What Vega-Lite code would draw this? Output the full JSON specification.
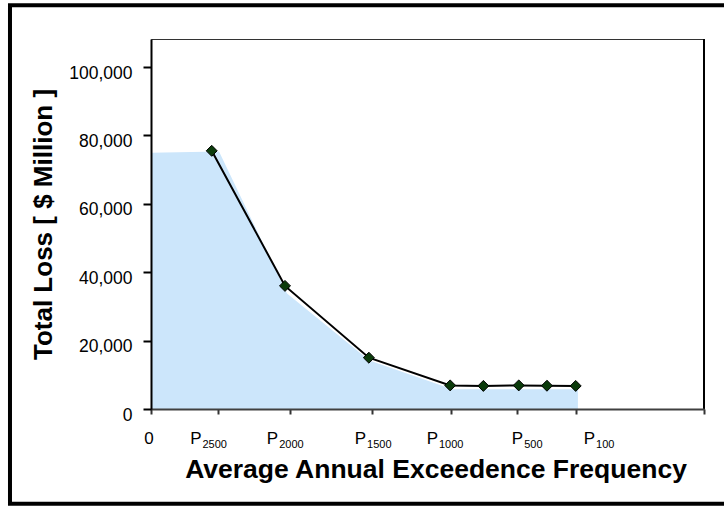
{
  "$schema": "https://vega.github.io/schema/vega-lite/v6.json",
  "width": 553,
  "height": 370,
  "autosize": {"type": "none"},
  "padding": {"left": 151, "top": 39, "right": 20, "bottom": 98},
  "background": "white",
  "config": {"font": "Liberation Sans", "view": {"stroke": "#333333", "strokeWidth": 1}},
  "datasets": {
    "curve": [
      {"freq": 10.98, "loss": 75500},
      {"freq": 24.23, "loss": 36000},
      {"freq": 39.4, "loss": 15000},
      {"freq": 54.1, "loss": 6900},
      {"freq": 60.1, "loss": 6750},
      {"freq": 66.5, "loss": 6900},
      {"freq": 71.6, "loss": 6800},
      {"freq": 76.8, "loss": 6750}
    ],
    "fill": [
      {"freq": 0, "loss": 74900},
      {"freq": 12.3, "loss": 75300},
      {"freq": 24.6, "loss": 33800},
      {"freq": 39.5, "loss": 14200},
      {"freq": 54.5, "loss": 5800},
      {"freq": 77.2, "loss": 5800}
    ],
    "labels": [
      {"freq": 9.13, "sub": "2500"},
      {"freq": 23.0, "sub": "2000"},
      {"freq": 38.9, "sub": "1500"},
      {"freq": 51.9, "sub": "1000"},
      {"freq": 67.3, "sub": "500"},
      {"freq": 80.3, "sub": "100"}
    ]
  },
  "layer": [
    {
      "data": {"name": "fill"},
      "mark": {"type": "area", "color": "#cce6fb", "opacity": 1},
      "encoding": {
        "x": {
          "field": "freq", "type": "quantitative",
          "scale": {"domain": [0, 100], "nice": false, "zero": false},
          "axis": {
            "values": [0, 12.1, 25.2, 40, 54.2, 66.2, 76.9, 100],
            "labels": false, "grid": false,
            "tickSize": 5, "tickWidth": 2, "tickColor": "#333333",
            "domainColor": "#404040", "domainWidth": 2,
            "title": "Average Annual Exceedence Frequency",
            "titleFontSize": 26.5, "titleFontWeight": "bold", "titleColor": "black",
            "titlePadding": 41, "titleX": 284.5, "zindex": 1
          }
        },
        "y": {
          "field": "loss", "type": "quantitative",
          "scale": {"domain": [0, 108200], "nice": false},
          "axis": {
            "values": [0, 20000, 40000, 60000, 80000, 100000],
            "labelExpr": "format(datum.value, ',')", "grid": false,
            "tickSize": 8, "tickWidth": 2, "tickColor": "black",
            "domainColor": "black", "domainWidth": 2,
            "labelFontSize": 17.5, "labelColor": "black", "labelPadding": 11, "labelOffset": 6,
            "title": "Total Loss [ $ Million ]",
            "titleFontSize": 26, "titleFontWeight": "bold", "titleColor": "black",
            "titleX": -95, "titleY": 185, "zindex": 1
          }
        }
      }
    },
    {
      "data": {"name": "curve"},
      "mark": {"type": "line", "color": "black", "strokeWidth": 2},
      "encoding": {
        "x": {"field": "freq", "type": "quantitative"},
        "y": {"field": "loss", "type": "quantitative"}
      }
    },
    {
      "data": {"name": "curve"},
      "mark": {"type": "point", "shape": "diamond", "filled": true, "fill": "#0b3b0b", "stroke": "black", "strokeWidth": 1, "size": 120, "opacity": 1},
      "encoding": {
        "x": {"field": "freq", "type": "quantitative"},
        "y": {"field": "loss", "type": "quantitative"}
      }
    },
    {
      "data": {"values": [{}]},
      "mark": {"type": "rule", "color": "black", "strokeWidth": 2},
      "encoding": {
        "x": {"datum": 100, "type": "quantitative"},
        "y": {"datum": 0, "type": "quantitative"},
        "y2": {"datum": 108200}
      }
    },
    {
      "data": {"name": "labels"},
      "mark": {"type": "text", "align": "right", "baseline": "alphabetic", "fontSize": 17, "color": "black"},
      "encoding": {
        "x": {"field": "freq", "type": "quantitative"},
        "y": {"datum": -10234, "type": "quantitative"},
        "text": {"value": "P"}
      }
    },
    {
      "data": {"name": "labels"},
      "mark": {"type": "text", "align": "left", "baseline": "alphabetic", "fontSize": 11, "dx": 1, "dy": 4, "color": "black"},
      "encoding": {
        "x": {"field": "freq", "type": "quantitative"},
        "y": {"datum": -10234, "type": "quantitative"},
        "text": {"field": "sub"}
      }
    },
    {
      "data": {"values": [{}]},
      "mark": {"type": "text", "align": "center", "baseline": "alphabetic", "fontSize": 17, "dx": -2, "color": "black"},
      "encoding": {
        "x": {"datum": 0, "type": "quantitative"},
        "y": {"datum": -10234, "type": "quantitative"},
        "text": {"value": "0"}
      }
    },
    {
      "data": {"values": [{}]},
      "mark": {"type": "rect", "fill": "white", "fillOpacity": 0, "stroke": "black", "strokeWidth": 4},
      "encoding": {
        "x": {"datum": -25.5, "type": "quantitative"},
        "x2": {"datum": 104},
        "y": {"datum": 118040, "type": "quantitative"},
        "y2": {"datum": -27690}
      }
    }
  ]
}
